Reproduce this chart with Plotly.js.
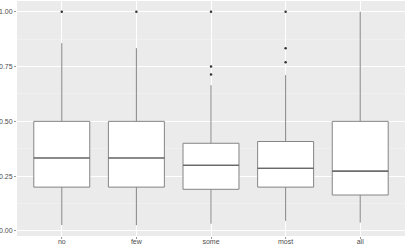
<!DOCTYPE html>
<html>
<head>
<meta charset="utf-8">
<script src="https://cdn.plot.ly/plotly-3.0.1.min.js"></script>
<style>html,body{margin:0;padding:0;background:#fff;}#chart{width:407px;height:244px;}</style>
</head>
<body>
<div id="chart"></div>
<script>
const categories = ["no", "few", "some", "most", "all"];
const lowerWhisker = [0.027, 0.026, 0.033, 0.046, 0.038];
const q1Values = [0.200, 0.200, 0.190, 0.200, 0.164];
const medianValues = [0.333, 0.333, 0.300, 0.286, 0.273];
const q3Values = [0.500, 0.500, 0.400, 0.408, 0.500];
const upperWhisker = [0.857, 0.834, 0.665, 0.711, 1.000];
const outlierCats = ["no", "few", "some", "some", "some", "most", "most", "most"];
const outlierValues = [1.0, 1.0, 1.0, 0.750, 0.714, 1.0, 0.833, 0.770];
const yTickVals = [0, 0.25, 0.5, 0.75, 1.0];
const yTickText = ["0.00", "0.25", "0.50", "0.75", "1.00"];

const traces = [
  {
    type: "box",
    x: categories,
    q1: q1Values,
    median: medianValues,
    q3: q3Values,
    lowerfence: lowerWhisker,
    upperfence: upperWhisker,
    fillcolor: "#ffffff",
    line: {color: "#858585", width: 1},
    whiskerwidth: 0,
    width: 0.75,
    boxpoints: false,
    hoverinfo: "skip",
    showlegend: false
  },
  {
    // darker median line, as ggplot draws it thicker
    type: "box",
    x: categories,
    q1: medianValues,
    median: medianValues,
    q3: medianValues,
    lowerfence: medianValues,
    upperfence: medianValues,
    fillcolor: "rgba(0,0,0,0)",
    line: {color: "#555555", width: 1.1},
    whiskerwidth: 0,
    width: 0.75,
    boxpoints: false,
    hoverinfo: "skip",
    showlegend: false
  },
  {
    type: "scatter",
    mode: "markers",
    x: outlierCats,
    y: outlierValues,
    marker: {color: "#333333", size: 2.5},
    hoverinfo: "skip",
    showlegend: false
  }
];

const layout = {
  width: 407,
  height: 244,
  margin: {l: 17, r: 2, t: 1, b: 8},
  paper_bgcolor: "#ffffff",
  plot_bgcolor: "#EBEBEB",
  font: {family: "Liberation Sans, Arial, sans-serif", size: 7, color: "#4D4D4D"},
  showlegend: false,
  boxmode: "overlay",
  xaxis: {
    type: "category",
    categoryorder: "array",
    categoryarray: categories,
    range: [-0.6, 4.6],
    showgrid: true,
    gridcolor: "#ffffff",
    gridwidth: 1,
    zeroline: false,
    showline: false,
    ticks: "outside",
    ticklen: 2,
    tickcolor: "#333333",
    tickwidth: 0.5,
    ticklabelstandoff: -3,
    tickfont: {size: 7, color: "#4D4D4D"},
    fixedrange: true
  },
  yaxis: {
    range: [-0.023, 1.049],
    tickvals: yTickVals,
    ticktext: yTickText,
    showgrid: true,
    gridcolor: "#ffffff",
    gridwidth: 1,
    minor: {dtick: 0.125, tick0: 0.125, showgrid: true, gridcolor: "#F4F4F4", gridwidth: 0.6, ticks: ""},
    zeroline: false,
    showline: false,
    ticks: "outside",
    ticklen: 2,
    tickcolor: "#333333",
    tickwidth: 0.5,
    tickfont: {size: 7, color: "#4D4D4D"},
    fixedrange: true
  }
};

Plotly.newPlot("chart", traces, layout, {displayModeBar: false, staticPlot: true});
</script>
</body>
</html>
